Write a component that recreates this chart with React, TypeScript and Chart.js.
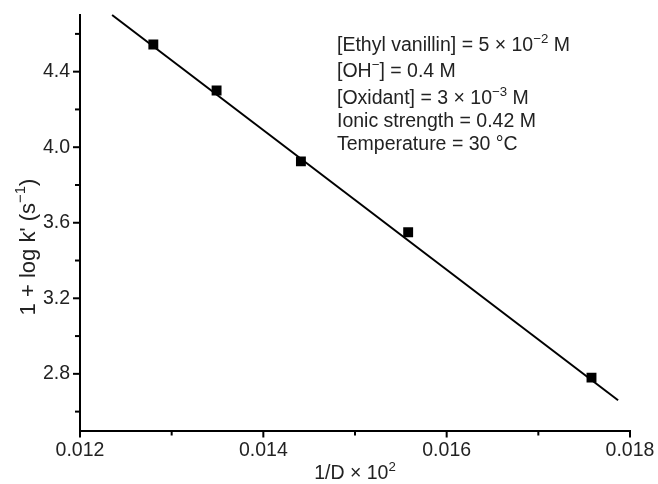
import React, { useEffect, useRef } from "react";
import { Chart, registerables } from "chart.js";

Chart.register(...registerables);

const invD = [0.0128, 0.01349, 0.01441, 0.01558, 0.01758];
const logK = [4.544, 4.3, 3.925, 3.55, 2.78];
const fitX = [0.01235, 0.01787];
const fitY = [4.7, 2.66];
const xTicks = [0.012, 0.013, 0.014, 0.015, 0.016, 0.017, 0.018];
const xLabels = ["0.012", "", "0.014", "", "0.016", "", "0.018"];
const yTicks = [2.6, 2.8, 3.0, 3.2, 3.4, 3.6, 3.8, 4.0, 4.2, 4.4, 4.6];
const yLabels = ["", "2.8", "", "3.2", "", "3.6", "", "4.0", "", "4.4", ""];

type Seg = { t: string; sup?: boolean };
const notes: Seg[][] = [
  [{ t: "[Ethyl vanillin] = 5 × 10" }, { t: "−2", sup: true }, { t: " M" }],
  [{ t: "[OH" }, { t: "−", sup: true }, { t: "] = 0.4 M" }],
  [{ t: "[Oxidant] = 3 × 10" }, { t: "−3", sup: true }, { t: " M" }],
  [{ t: "Ionic strength = 0.42 M" }],
  [{ t: "Temperature = 30 °C" }],
];
const xTitle: Seg[] = [{ t: "1/D × 10" }, { t: "2", sup: true }];
const yTitle: Seg[] = [{ t: "1 + log k' (s" }, { t: "−1", sup: true }, { t: ")" }];

const FONT = "'Liberation Sans', Arial, sans-serif";
const FS = 19.5;
const TXT = "#222";

function segWidth(ctx: CanvasRenderingContext2D, segs: Seg[], fs: number) {
  let w = 0;
  for (const s of segs) {
    ctx.font = `${s.sup ? fs * 0.68 : fs}px ${FONT}`;
    w += ctx.measureText(s.t).width;
  }
  return w;
}

function drawSegs(ctx: CanvasRenderingContext2D, segs: Seg[], x: number, y: number, fs: number) {
  let cx = x;
  ctx.textBaseline = "alphabetic";
  ctx.textAlign = "left";
  for (const s of segs) {
    ctx.font = `${s.sup ? fs * 0.68 : fs}px ${FONT}`;
    ctx.fillText(s.t, cx, s.sup ? y - fs * 0.42 : y);
    cx += ctx.measureText(s.t).width;
  }
}

const decor = {
  id: "decor",
  afterDraw(chart: any) {
    const ctx: CanvasRenderingContext2D = chart.ctx;
    const xs = chart.scales.x;
    const ys = chart.scales.y;
    const area = chart.chartArea;
    ctx.save();
    ctx.strokeStyle = "#000";
    ctx.lineWidth = 2;
    xTicks.forEach((v, i) => {
      const px = xs.getPixelForValue(v);
      const len = xLabels[i] ? 7 : 5;
      ctx.beginPath();
      ctx.moveTo(px, area.bottom);
      ctx.lineTo(px, area.bottom + len);
      ctx.stroke();
    });
    yTicks.forEach((v, i) => {
      const py = ys.getPixelForValue(v);
      const len = yLabels[i] ? 7 : 5;
      ctx.beginPath();
      ctx.moveTo(area.left, py);
      ctx.lineTo(area.left - len, py);
      ctx.stroke();
    });
    ctx.fillStyle = TXT;
    const baselines = [51, 77, 104, 126.5, 149.5];
    notes.forEach((segs, i) => drawSegs(ctx, segs, 337, baselines[i], FS));
    const cx = (area.left + area.right) / 2;
    const xw = segWidth(ctx, xTitle, FS);
    drawSegs(ctx, xTitle, cx - xw / 2, 479, FS);
    const TFS = 22;
    const yw = segWidth(ctx, yTitle, TFS);
    ctx.save();
    ctx.translate(34.5, 247);
    ctx.rotate(-Math.PI / 2);
    drawSegs(ctx, yTitle, -yw / 2, 0, TFS);
    ctx.restore();
    ctx.restore();
  },
};

const noPad = (s: any) => {
  s.paddingTop = 0;
  s.paddingBottom = 0;
  s.paddingLeft = 0;
  s.paddingRight = 0;
};

export default function App() {
  const ref = useRef<HTMLCanvasElement>(null);
  useEffect(() => {
    document.body.style.margin = "0";
    const chart = new Chart(ref.current!, {
      type: "scatter",
      data: {
        datasets: [
          {
            type: "line",
            data: fitX.map((x, i) => ({ x, y: fitY[i] })),
            borderColor: "#000",
            borderWidth: 2,
            pointRadius: 0,
            showLine: true,
            clip: false as any,
          },
          {
            data: invD.map((x, i) => ({ x, y: logK[i] })),
            backgroundColor: "#000",
            borderColor: "#000",
            pointStyle: "rect",
            pointRadius: 7,
            borderWidth: 0,
          },
        ],
      },
      options: {
        animation: false,
        responsive: false,
        plugins: { legend: { display: false }, tooltip: { enabled: false } },
        layout: { padding: { top: 15, right: 28, left: 0, bottom: 0 } },
        scales: {
          x: {
            type: "linear",
            min: 0.012,
            max: 0.018,
            afterBuildTicks: (s: any) => {
              s.ticks = xTicks.map((v) => ({ value: v }));
            },
            afterFit: (s: any) => {
              s.height = 53.5;
              noPad(s);
            },
            ticks: {
              callback: (_v: any, i: number) => xLabels[i],
              font: { family: FONT, size: FS },
              color: TXT,
              padding: 8,
              maxRotation: 0,
              autoSkip: false,
            },
            grid: { display: false, drawTicks: false },
            border: { display: true, color: "#000", width: 2 },
          },
          y: {
            type: "linear",
            min: 2.5,
            max: 4.7,
            afterBuildTicks: (s: any) => {
              s.ticks = yTicks.map((v) => ({ value: v }));
            },
            afterFit: (s: any) => {
              s.width = 80;
              noPad(s);
            },
            ticks: {
              callback: (_v: any, i: number) => yLabels[i],
              font: { family: FONT, size: FS },
              color: TXT,
              padding: 10,
              autoSkip: false,
            },
            grid: { display: false, drawTicks: false },
            border: { display: true, color: "#000", width: 2 },
          },
        },
      },
      plugins: [decor],
    });
    return () => chart.destroy();
  }, []);
  return <canvas ref={ref} width={658} height={484} style={{ display: "block" }} />;
}
